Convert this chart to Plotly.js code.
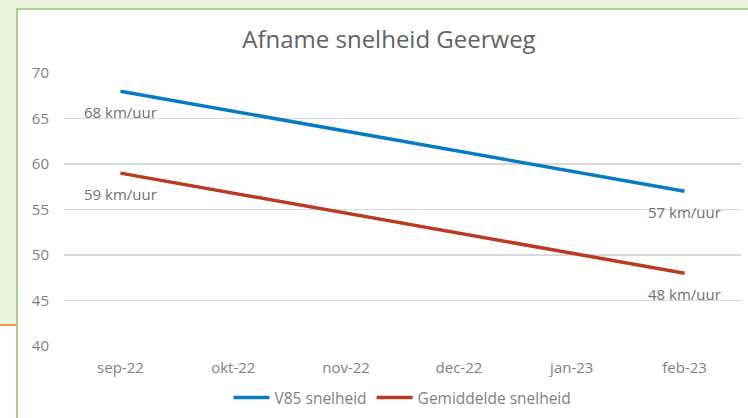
<!DOCTYPE html>
<html>
<head>
<meta charset="utf-8">
<script src="https://cdn.plot.ly/plotly-3.0.1.min.js"></script>
<style>
  html, body { margin:0; padding:0; background:#ffffff; width:748px; height:418px; overflow:hidden; }
  .deco { position:absolute; }
  #chart { position:absolute; left:0; top:0; width:748px; height:418px; }
</style>
</head>
<body>
<div class="deco" style="left:0;top:0;width:748px;height:9px;background:#e9f2df;"></div>
<div class="deco" style="left:0;top:0;width:17px;height:325px;background:#e9f2df;"></div>
<div class="deco" style="left:0;top:324px;width:17px;height:2px;background:#f39b34;"></div>
<div class="deco" style="left:16px;top:8px;width:732px;height:410px;background:#ffffff;border-left:2px solid #a9d18e;border-top:2px solid #a9d18e;"></div>
<div id="chart"></div>
<script>
const months = ['sep-22','okt-22','nov-22','dec-22','jan-23','feb-23'];
const v85 = [68, null, null, null, null, 57];
const gemiddeld = [59, null, null, null, null, 48];
const seriesNames = ['V85 snelheid', 'Gemiddelde snelheid'];
const seriesColors = ['#0a7bc1', '#b83b24'];
const unit = ' km/uur';

const FONT = '"Open Sans", Lato, sans-serif';
const series = [v85, gemiddeld];

const traces = series.map((vals, i) => ({
  x: months, y: vals, type: 'scatter', mode: 'lines', name: seriesNames[i],
  connectgaps: true, line: {color: seriesColors[i], width: 3.5}, hoverinfo: 'skip'
}));

const annotations = [];
series.forEach(vals => {
  vals.forEach((v, j) => {
    if (v !== null) {
      annotations.push({x: months[j], y: v, xref: 'x', yref: 'y', text: v + unit,
        showarrow: false, yshift: -21, font: {family: FONT, size: 15, color: '#707070'}});
    }
  });
});

const layout = {
  width: 748, height: 418,
  paper_bgcolor: 'rgba(0,0,0,0)', plot_bgcolor: 'rgba(0,0,0,0)',
  margin: {l: 63.5, r: 6.5, t: 73, b: 72, autoexpand: false},
  font: {family: FONT, color: '#7f7f7f', size: 15},
  title: {text: 'Afname snelheid Geerweg', x: 0.52, xanchor: 'center', y: 0.905, yanchor: 'middle',
          font: {family: FONT, size: 24, color: '#626262'}},
  xaxis: {type: 'category', range: [-0.5, 5.5], showgrid: false, zeroline: false, showline: false, ticks: '',
          ticklabelstandoff: 11, automargin: false,
          tickfont: {family: FONT, size: 15, color: '#7f7f7f'}, fixedrange: true},
  yaxis: {range: [40, 70], dtick: 5, showgrid: true, gridcolor: '#d9d9d9', gridwidth: 1.3,
          zeroline: false, showline: false, ticks: '', ticklabelstandoff: 14, automargin: false,
          tickfont: {family: FONT, size: 15, color: '#7f7f7f'}, fixedrange: true},
  showlegend: true,
  legend: {orientation: 'h', x: 0.5, xanchor: 'center', yref: 'container', y: 0.048, yanchor: 'middle',
           font: {family: FONT, size: 15.5, color: '#7f7f7f'}, itemwidth: 36},
  annotations: annotations
};

Plotly.newPlot('chart', traces, layout, {staticPlot: true, displayModeBar: false});
</script>
</body>
</html>
